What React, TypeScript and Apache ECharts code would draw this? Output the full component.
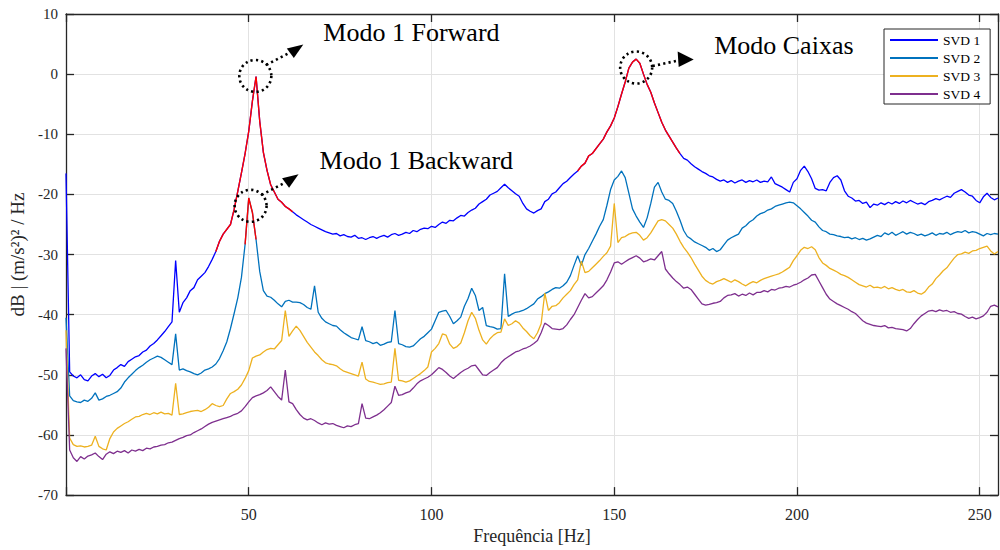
import React, { useEffect, useRef } from "react";
import * as echarts from "echarts";

// Singular values of the spectral density matrix, one value per 1 Hz bin (0..255 Hz), in dB
const svd1 = [
  -16.5, -49.5, -50.2, -50.5, -50.0, -50.8, -51.0, -50.2, -49.8, -50.3,
  -49.9, -50.5, -50.1, -49.2, -48.8, -48.3, -48.6, -47.8, -47.4, -47.0,
  -46.8, -46.2, -45.9, -45.2, -44.8, -44.2, -43.5, -42.8, -42.0, -41.2,
  -31.0, -39.6, -38.0, -37.2, -36.0, -35.5, -34.2, -33.6, -33.0, -32.0,
  -30.8, -29.5, -27.8, -26.6, -25.8, -25.0, -22.5, -19.5, -16.4, -13.2,
  -9.5, -4.5, -0.4, -7.8, -13.0, -16.0, -18.4, -19.6, -20.8, -21.3,
  -22.0, -22.4, -22.9, -23.4, -23.8, -24.2, -24.6, -25.0, -25.3, -25.6,
  -25.9, -26.2, -26.4, -26.6, -26.5, -26.9, -26.7, -27.0, -27.1, -26.8,
  -27.3, -27.2, -27.5, -27.2, -27.0, -27.3, -27.0, -26.8, -27.1, -26.7,
  -26.5, -26.8, -26.6, -26.3, -26.5, -26.0, -26.2, -25.8, -25.6, -25.7,
  -25.3, -25.5, -25.0, -24.6, -24.8, -24.3, -24.4, -23.9, -23.5, -23.6,
  -23.0, -22.6, -22.3, -21.6, -21.2, -20.8, -20.1, -19.8, -19.5, -18.9,
  -18.3, -18.9, -19.4, -19.9, -20.3, -21.5, -22.4, -22.8, -23.1, -22.7,
  -22.4, -21.2, -20.8, -19.9, -19.6, -18.9, -18.2, -17.8, -17.2, -16.6,
  -16.1, -15.3, -14.8, -13.6, -13.2, -12.4, -11.6, -10.8, -9.6, -8.6,
  -7.3, -5.4, -3.3, -1.3, 1.0, 2.0, 2.5, 1.8, 0.0, -1.7,
  -3.0, -4.8, -6.4, -8.0, -9.3, -10.3, -11.3, -12.3, -13.2, -14.0,
  -14.3, -14.9, -15.4, -15.8, -16.2, -16.5, -16.9, -17.1, -17.5, -17.8,
  -17.6, -18.0, -17.7, -18.1, -17.8, -17.6, -18.0, -17.7, -17.9, -17.6,
  -18.0, -17.8, -17.9, -17.1, -18.2, -18.5, -18.8, -19.2, -19.6, -18.0,
  -17.4, -16.0, -15.3, -16.2, -17.4, -19.0, -19.3, -19.2, -19.4, -18.0,
  -17.2, -16.9, -17.6, -19.4, -20.3, -20.6, -21.1, -21.0, -21.5, -21.3,
  -22.2, -21.6, -21.8, -21.4, -21.7, -21.3, -21.6, -21.2, -21.5, -21.1,
  -21.4, -21.0, -21.3, -21.6, -21.4, -21.7, -21.2, -21.0, -20.7, -20.9,
  -20.6, -20.3, -20.5, -19.8, -19.5, -19.2, -19.6, -20.1, -20.3, -21.0,
  -21.4, -20.4, -19.8, -20.5, -20.9, -20.6,
];

const svd2 = [
  -40.5, -53.5, -54.3, -54.5, -54.6, -54.2, -54.4, -53.9, -53.0, -54.2,
  -54.0, -53.6, -53.4, -53.1, -52.8, -52.2, -51.2, -50.5, -49.9, -49.3,
  -48.8, -48.4, -47.9, -47.5, -47.2, -46.9, -47.1, -47.5, -47.9, -48.3,
  -43.2, -49.2, -49.0, -49.3, -49.5, -49.8, -50.0, -49.7, -49.2, -49.0,
  -48.7, -48.2, -47.3, -46.0, -44.5, -42.3, -39.8, -37.2, -33.8, -28.3,
  -20.6, -23.0, -27.5, -32.8, -36.0, -36.9, -37.1, -37.6, -38.2, -38.7,
  -37.8, -37.6, -37.9, -37.9, -38.0, -38.3, -38.8, -39.1, -35.2, -39.6,
  -40.6, -41.2, -41.5, -41.8, -41.9, -42.5, -43.0, -43.4, -43.8, -44.0,
  -44.2, -42.0, -44.3, -44.5, -44.8, -44.6, -45.1, -44.9, -44.6, -44.5,
  -39.3, -44.8, -45.0, -45.3, -45.4, -45.2, -44.6, -44.0, -43.6, -43.0,
  -42.4, -41.0, -39.6, -39.4, -39.3, -40.3, -41.5, -41.0, -40.4, -38.6,
  -37.3, -35.6, -36.8, -39.3, -38.8, -41.8, -42.0, -42.1, -42.4, -42.3,
  -33.2, -40.3, -39.9, -39.6, -39.5, -39.3, -39.0, -38.6, -38.2, -37.4,
  -37.0, -36.5, -36.2, -35.8, -35.5, -35.6, -35.2, -34.6, -33.5, -31.8,
  -30.2, -31.8, -30.0, -29.0, -27.8, -26.6, -25.3, -24.2, -21.8, -19.2,
  -17.6, -17.0, -16.1, -17.2, -19.8, -22.4, -23.6, -24.6, -25.5, -23.9,
  -21.5, -18.8, -18.0, -19.6, -20.8, -21.0, -21.5, -22.8, -24.3, -26.0,
  -27.0, -27.4, -27.9, -28.2, -28.5, -28.8, -29.3, -29.0, -29.5, -29.2,
  -28.4, -27.6, -27.2, -26.9, -26.6, -25.6, -25.2, -24.6, -24.2, -23.6,
  -23.2, -23.0, -22.6, -22.4, -22.0, -21.8, -21.6, -21.4, -21.3, -21.4,
  -21.9, -22.4, -23.0, -23.6, -24.3, -24.6, -25.4, -26.0, -26.2, -26.6,
  -26.7, -26.9, -27.0, -27.2, -27.1, -27.4, -27.2, -27.5, -27.3, -27.6,
  -27.4, -27.1, -26.8, -27.0, -26.4, -26.7, -26.3, -26.8, -26.5, -26.2,
  -26.6, -26.3, -26.5, -26.8, -26.6, -26.9, -26.7, -26.4, -26.8, -26.5,
  -26.6, -26.3, -26.7, -26.4, -26.2, -26.3, -26.0, -26.4, -26.2, -26.3,
  -26.6, -26.9, -26.5, -26.7, -26.5, -26.6,
];

const svd3 = [
  -42.6, -60.5, -61.6, -61.9, -61.8, -62.0, -61.9, -61.7, -60.2, -61.9,
  -62.3, -62.5, -60.6, -59.5, -58.9, -58.5, -58.1, -57.8, -57.4, -57.0,
  -56.9, -56.6, -56.4, -56.6, -56.3, -56.5, -56.2, -56.5, -56.4, -56.7,
  -51.4, -56.6, -56.5, -56.3, -56.1, -56.0, -55.9, -56.1, -55.8, -55.4,
  -54.8, -55.1, -55.3, -55.1, -54.0, -53.1, -52.8, -52.4, -51.7, -50.6,
  -49.3, -47.2, -46.9, -46.7, -46.2, -45.8, -45.6, -45.7, -45.0, -44.3,
  -39.3, -43.6, -42.7, -41.9, -42.6, -43.6, -44.6, -45.4, -46.2, -46.8,
  -47.5, -48.0, -48.2, -48.3, -48.5, -49.0, -49.4, -49.6, -49.8, -50.0,
  -50.2, -47.9, -50.7, -51.1, -51.2, -51.4, -51.6, -51.5, -51.3, -51.2,
  -45.6, -50.9, -51.0, -51.2, -51.0, -50.6, -50.2, -49.8, -49.3, -48.7,
  -46.2, -45.6, -44.8, -43.2, -43.4, -44.9, -45.6, -45.3, -44.7, -43.0,
  -41.0, -39.6, -40.6, -42.6, -44.2, -44.9, -44.0, -43.4, -43.0, -42.9,
  -40.7, -41.8, -41.5, -41.0, -41.4, -42.2, -42.8, -43.5, -44.0, -43.0,
  -41.5, -36.4, -39.3, -38.6, -38.5, -38.0, -37.2, -36.6, -36.0, -35.0,
  -34.2, -31.1, -33.0, -32.8, -32.2, -31.6, -31.0, -30.3, -29.7, -28.6,
  -21.5, -28.0, -27.2, -27.0, -26.6, -26.4, -26.3, -26.8, -27.6, -27.2,
  -26.4, -25.4, -24.4, -24.2, -24.4, -25.0, -25.6, -26.6, -27.8, -28.8,
  -29.6, -30.5, -31.6, -32.6, -33.6, -34.3, -34.7, -34.9, -34.5, -34.3,
  -34.0, -34.3, -34.6, -34.2, -34.5, -34.9, -35.2, -34.8, -34.5, -34.7,
  -34.3, -34.0, -33.8, -33.6, -33.4, -33.2, -32.9, -32.5, -32.1, -31.0,
  -30.2, -29.3, -28.8, -29.0, -28.7, -29.2, -30.5, -31.4, -31.8, -32.3,
  -32.6, -32.9, -33.3, -33.5, -33.8, -34.2, -34.6, -35.0, -35.2, -35.4,
  -35.1, -35.5, -35.4, -35.6, -35.3, -35.7, -35.5, -35.8, -36.0, -35.8,
  -36.2, -36.3, -36.0, -36.4, -36.6, -36.2, -35.4, -34.9, -34.0, -33.4,
  -32.7, -32.2, -31.4, -30.6, -30.0, -29.9, -29.6, -29.8, -29.4, -29.3,
  -29.0, -28.8, -28.6, -29.4, -29.9, -29.5,
];

const svd4 = [
  -45.6, -62.5, -63.8, -64.4, -63.6, -64.0, -63.5, -63.3, -63.0, -63.6,
  -64.1, -63.2, -62.8, -63.1, -62.7, -62.9, -62.6, -63.0, -62.5, -62.7,
  -62.4, -62.6, -62.2, -62.3, -62.0, -61.9, -61.7, -61.6, -61.3, -61.2,
  -60.9, -60.6, -60.4, -60.1, -60.0, -59.6, -59.3, -59.0, -58.6, -58.2,
  -57.9, -57.7, -57.5, -57.3, -57.1, -56.9, -56.6, -56.4, -56.0, -55.3,
  -54.5, -53.8, -53.5, -53.3, -53.0, -52.6, -52.0, -52.8, -53.6, -54.2,
  -49.2, -54.5, -54.8, -55.8, -56.6, -57.2, -57.5, -57.3, -57.6, -58.0,
  -58.3, -58.0, -58.2, -58.1, -58.4, -58.6, -58.8, -58.5, -58.6, -58.3,
  -58.1, -54.8, -57.2, -57.3, -57.0, -56.7, -56.3, -55.8, -55.2, -54.6,
  -51.9, -53.4, -53.3, -53.0, -52.8, -52.2, -51.5, -51.0, -50.7, -50.4,
  -50.0, -49.4, -48.8, -49.1, -49.6, -50.2, -50.6, -50.1, -49.6, -49.2,
  -48.9, -48.5, -48.4, -49.2, -50.0, -50.1, -49.6, -49.2, -48.8, -48.0,
  -47.4, -47.0, -46.6, -46.2, -46.0, -45.7, -45.5, -45.2, -44.8, -44.3,
  -43.0, -41.4, -41.8, -42.3, -42.4, -42.5, -42.3, -41.7, -40.8, -40.0,
  -38.8, -37.6, -36.5, -37.2, -37.0, -36.4, -35.8, -35.2, -34.2, -32.9,
  -31.4, -31.2, -31.6, -31.2, -30.8, -30.5, -30.2, -30.6, -31.2, -31.0,
  -30.7, -30.9, -30.2, -29.5, -32.4, -33.2, -33.9, -34.5, -35.0, -35.6,
  -35.4, -35.8, -36.6, -37.4, -38.2, -38.4, -38.3, -38.1, -38.0, -37.8,
  -37.2, -36.8, -36.7, -36.5, -36.9, -36.6, -36.8, -36.4, -36.7, -36.3,
  -36.3, -36.0, -36.2, -35.8, -35.9, -35.6, -35.5, -35.3, -35.4, -35.1,
  -34.9, -34.6, -34.2, -33.9, -33.4, -33.3, -34.4, -35.5, -36.6, -37.4,
  -37.8, -38.2, -38.5, -38.8, -39.1, -39.5, -39.8, -40.4, -41.0, -41.4,
  -41.6, -41.8, -41.9, -42.0, -41.8, -42.2, -42.1, -42.3, -42.4, -42.5,
  -42.7, -42.3, -41.5, -40.8, -40.2, -39.8, -39.4, -39.3, -39.5, -39.2,
  -39.4, -39.3, -39.6, -39.5, -39.8, -39.9, -40.3, -40.6, -40.4, -40.7,
  -40.5, -40.2, -39.6, -38.6, -38.4, -38.7,
];

const freqStep = 1; // Hz per bin
const seriesNames = ["SVD 1", "SVD 2", "SVD 3", "SVD 4"];
const seriesColors = ["#0000FF", "#0072BD", "#EDB120", "#7E2F8E"];
const modeColor = "#FF0000";

// Frequency bands (Hz) of the identified modes, redrawn in red
const svd1ModeBands = [
  [41, 62],
  [140, 168],
];
const svd2ModeBands = [[49, 52]];

const xLimits = [0, 255];
const xTickStep = 50;
const yLimits = [-70, 10];
const yTickStep = 10;

// Mode labels: circle centre in data units (Hz, dB)
const modeLabels = [
  { text: "Modo 1 Forward", at: [51.8, -0.3], textDx: 68, textDy: -43, arrow: "up" },
  { text: "Modo 1 Backward", at: [50.5, -21.9], textDx: 69, textDy: -45, arrow: "up" },
  { text: "Modo Caixas", at: [156.0, 1.1], textDx: 78, textDy: -22, arrow: "right" },
];

const serif = "'Liberation Serif', 'Times New Roman', serif";
const axisColor = "#262626";

function toPairs(values: number[], from = 0, to = values.length - 1) {
  const out: [number, number][] = [];
  for (let i = from; i <= to; i++) out.push([i * freqStep, values[i]]);
  return out;
}

export default function App() {
  const ref = useRef<HTMLDivElement>(null);

  useEffect(() => {
    if (!ref.current) return;
    const chart = echarts.init(ref.current, null, { renderer: "svg" });

    const all = [svd1, svd2, svd3, svd4];
    const mainSeries = all.map((vals, k) => ({
      name: seriesNames[k],
      type: "line",
      data: toPairs(vals),
      showSymbol: false,
      symbol: "none",
      color: seriesColors[k],
      lineStyle: { color: seriesColors[k], width: 1.3 },
      itemStyle: { color: seriesColors[k] },
      z: 2,
    }));
    const bandSeries: any[] = [];
    const addBands = (vals: number[], bands: number[][]) =>
      bands.forEach(([a, b]) =>
        bandSeries.push({
          type: "line",
          data: toPairs(vals, a / freqStep, b / freqStep),
          showSymbol: false,
          symbol: "none",
          lineStyle: { color: modeColor, width: 1.4 },
          itemStyle: { color: modeColor },
          z: 3,
          silent: true,
        })
      );
    addBands(svd1, svd1ModeBands);
    addBands(svd2, svd2ModeBands);

    const tickLabel = (v: number) =>
      v % xTickStep === 0 && v > xLimits[0] ? String(v) : "";

    chart.setOption({
      animation: false,
      backgroundColor: "#ffffff",
      grid: { left: 66, right: 2, top: 14, bottom: 53, containLabel: false },
      legend: {
        data: seriesNames,
        orient: "vertical",
        left: 884,
        top: 29,
        icon: "rect",
        itemWidth: 48,
        itemHeight: 2,
        itemGap: 4,
        padding: [4, 10, 3, 6],
        backgroundColor: "#ffffff",
        borderColor: axisColor,
        borderWidth: 1,
        borderRadius: 0,
        textStyle: { fontFamily: serif, fontSize: 13.5, color: "#000", lineHeight: 14 },
      },
      xAxis: [
        {
          type: "value",
          min: xLimits[0],
          max: xLimits[1],
          interval: xTickStep,
          name: "Frequência [Hz]",
          nameLocation: "middle",
          nameGap: 30,
          nameTextStyle: { fontFamily: serif, fontSize: 18, color: "#262626" },
          axisLine: { show: true, onZero: false, lineStyle: { color: axisColor, width: 1.3 } },
          axisTick: { show: true, inside: true, length: 8, lineStyle: { color: axisColor, width: 1.3 } },
          axisLabel: {
            formatter: tickLabel,
            fontFamily: serif,
            fontSize: 16,
            color: "#262626",
            margin: 11,
            showMaxLabel: false,
          },
          splitLine: { show: true, lineStyle: { color: "#e2e2e2", width: 1 } },
        },
        {
          type: "value",
          position: "top",
          min: xLimits[0],
          max: xLimits[1],
          interval: xTickStep,
          axisLine: { show: true, onZero: false, lineStyle: { color: axisColor, width: 1.3 } },
          axisTick: { show: true, inside: true, length: 8, lineStyle: { color: axisColor, width: 1.3 } },
          axisLabel: { show: false },
          splitLine: { show: false },
        },
      ],
      yAxis: [
        {
          type: "value",
          min: yLimits[0],
          max: yLimits[1],
          interval: yTickStep,
          name: "dB | (m/s²)² / Hz",
          nameLocation: "middle",
          nameGap: 29,
          nameTextStyle: { fontFamily: serif, fontSize: 19, color: "#262626" },
          axisLine: { show: true, onZero: false, lineStyle: { color: axisColor, width: 1.3 } },
          axisTick: { show: true, inside: true, length: 8, lineStyle: { color: axisColor, width: 1.3 } },
          axisLabel: { fontFamily: serif, fontSize: 15, color: "#262626", margin: 8 },
          splitLine: { show: true, lineStyle: { color: "#e2e2e2", width: 1 } },
        },
        {
          type: "value",
          position: "right",
          min: yLimits[0],
          max: yLimits[1],
          interval: yTickStep,
          axisLine: { show: true, onZero: false, lineStyle: { color: axisColor, width: 1.3 } },
          axisTick: { show: true, inside: true, length: 8, lineStyle: { color: axisColor, width: 1.3 } },
          axisLabel: { show: false },
          splitLine: { show: false },
        },
      ],
      series: [...mainSeries, ...bandSeries],
    });

    // Dotted circles, dotted leader lines with arrow heads, and mode names
    const dotted = { stroke: "#000", lineWidth: 2.6, lineDash: [2.2, 3.2], fill: "none" };
    const graphics: any[] = [];
    modeLabels.forEach((m) => {
      const [cx, cy] = chart.convertToPixel({ xAxisIndex: 0, yAxisIndex: 0 }, m.at) as number[];
      graphics.push({
        type: "circle",
        shape: { cx, cy, r: 16 },
        style: { ...dotted },
        z: 10,
      });
      if (m.arrow === "up") {
        graphics.push({
          type: "line",
          shape: { x1: cx + 11, y1: cy - 11, x2: cx + 33, y2: cy - 22.5 },
          style: { ...dotted },
          z: 10,
        });
        graphics.push({
          type: "polygon",
          shape: { points: [[cx + 31.5, cy - 27.5], [cx + 48, cy - 31.5], [cx + 38.5, cy - 18]] },
          style: { fill: "#000" },
          z: 10,
        });
      } else {
        graphics.push({
          type: "line",
          shape: { x1: cx + 16.5, y1: cy - 1.5, x2: cx + 42, y2: cy - 7 },
          style: { ...dotted },
          z: 10,
        });
        graphics.push({
          type: "polygon",
          shape: { points: [[cx + 41.5, cy - 16], [cx + 57.5, cy - 8], [cx + 42.5, cy - 0.5]] },
          style: { fill: "#000" },
          z: 10,
        });
      }
      graphics.push({
        type: "text",
        x: cx + m.textDx,
        y: cy + m.textDy,
        style: {
          text: m.text,
          font: `26px ${serif}`,
          fill: "#000",
          textAlign: "left",
          textVerticalAlign: "middle",
        },
        z: 10,
      });
    });
    chart.setOption({ graphic: graphics });

    return () => chart.dispose();
  }, []);

  return (
    <div
      ref={ref}
      style={{ position: "fixed", left: 0, top: 0, width: 1000, height: 550, background: "#fff" }}
    />
  );
}
